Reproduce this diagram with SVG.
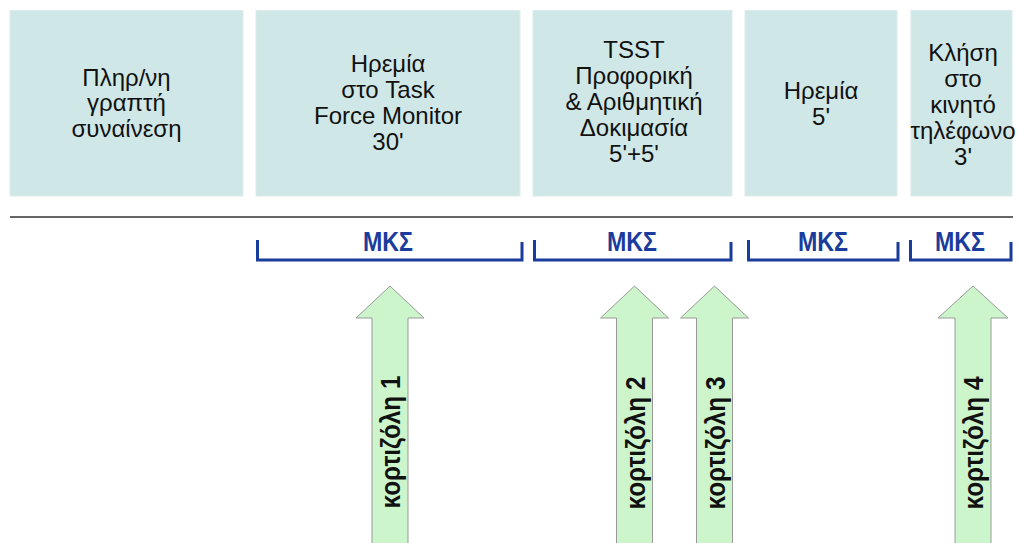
<svg xmlns="http://www.w3.org/2000/svg" width="1019" height="543" viewBox="0 0 1019 543">
<style>
.box{fill:#d0e7e7;stroke:#dcecec;stroke-width:1}
.bt{font-family:"Liberation Sans",Arial,sans-serif;font-size:24px;fill:#111;text-anchor:middle}
.br{fill:none;stroke:#1a3c9c;stroke-width:3}
.mk{font-family:"Liberation Sans",Arial,sans-serif;font-size:27px;font-weight:bold;fill:#1a3c9c;text-anchor:middle}
.ar{fill:#ccf5cc;stroke:#999;stroke-width:1}
.at{font-family:"Liberation Sans",Arial,sans-serif;font-size:28px;font-weight:bold;fill:#111;text-anchor:middle}
</style>
<rect width="1019" height="543" fill="#fff"/>
<g id="box1"><rect class="box" x="10" y="10.5" width="233" height="185.5"/>
<text class="bt" x="126.5" y="86">Πληρ/νη</text>
<text class="bt" x="126.5" y="111">γραπτή</text>
<text class="bt" x="126.5" y="137">συναίνεση</text></g>
<g id="box2"><rect class="box" x="256" y="10.5" width="264" height="185.5"/>
<text class="bt" x="388" y="72">Ηρεμία</text>
<text class="bt" x="388" y="98">στο Task</text>
<text class="bt" x="388" y="124">Force Monitor</text>
<text class="bt" x="388" y="150">30'</text></g>
<g id="box3"><rect class="box" x="533" y="10.5" width="199" height="185.5"/>
<text class="bt" x="634" y="58">TSST</text>
<text class="bt" x="634" y="84">Προφορική</text>
<text class="bt" x="634" y="110">&amp; Αριθμητική</text>
<text class="bt" x="634" y="136">Δοκιμασία</text>
<text class="bt" x="634" y="162">5'+5'</text></g>
<g id="box4"><rect class="box" x="745" y="10.5" width="152" height="185.5"/>
<text class="bt" x="821" y="99">Ηρεμία</text>
<text class="bt" x="821" y="125">5'</text></g>
<g id="box5"><rect class="box" x="911" y="10.5" width="101" height="185.5"/>
<text class="bt" x="963" y="61">Κλήση</text>
<text class="bt" x="963" y="87">στο</text>
<text class="bt" x="963" y="113">κινητό</text>
<text class="bt" x="963" y="139">τηλέφωνο</text>
<text class="bt" x="963" y="165">3'</text></g>
<g id="connectors">
<line x1="10" y1="217" x2="1013" y2="217" stroke="#333" stroke-width="1.5"/>
<path class="br" d="M257.5,240 V260 H522 V242"/>
<path class="br" d="M534.5,240 V260 H731 V242"/>
<path class="br" d="M748.5,240 V260 H898 V242"/>
<path class="br" d="M910.5,240 V260 H1011 V242"/>
</g>
<g id="mks1"><text class="mk" x="388" y="251" textLength="50" lengthAdjust="spacingAndGlyphs">ΜΚΣ</text></g>
<g id="mks2"><text class="mk" x="632" y="251" textLength="50" lengthAdjust="spacingAndGlyphs">ΜΚΣ</text></g>
<g id="mks3"><text class="mk" x="823" y="251" textLength="50" lengthAdjust="spacingAndGlyphs">ΜΚΣ</text></g>
<g id="mks4"><text class="mk" x="960" y="251" textLength="50" lengthAdjust="spacingAndGlyphs">ΜΚΣ</text></g>
<g id="arrow1"><path class="ar" d="M390,286 L424,318 H408 V545 H372 V318 H356 Z"/>
<text class="at" transform="translate(390,442) rotate(-90)" x="0" y="10" textLength="133" lengthAdjust="spacingAndGlyphs">κορτιζόλη 1</text></g>
<g id="arrow2"><path class="ar" d="M634.5,286 L668.5,318 H652.5 V545 H616.5 V318 H600.5 Z"/>
<text class="at" transform="translate(634.5,443) rotate(-90)" x="0" y="10" textLength="133" lengthAdjust="spacingAndGlyphs">κορτιζόλη 2</text></g>
<g id="arrow3"><path class="ar" d="M714.5,286 L748.5,318 H732.5 V545 H696.5 V318 H680.5 Z"/>
<text class="at" transform="translate(714.5,443) rotate(-90)" x="0" y="10" textLength="133" lengthAdjust="spacingAndGlyphs">κορτιζόλη 3</text></g>
<g id="arrow4"><path class="ar" d="M973,286 L1008,318 H991 V545 H955 V318 H938 Z"/>
<text class="at" transform="translate(973,443) rotate(-90)" x="0" y="10" textLength="133" lengthAdjust="spacingAndGlyphs">κορτιζόλη 4</text></g>
</svg>
